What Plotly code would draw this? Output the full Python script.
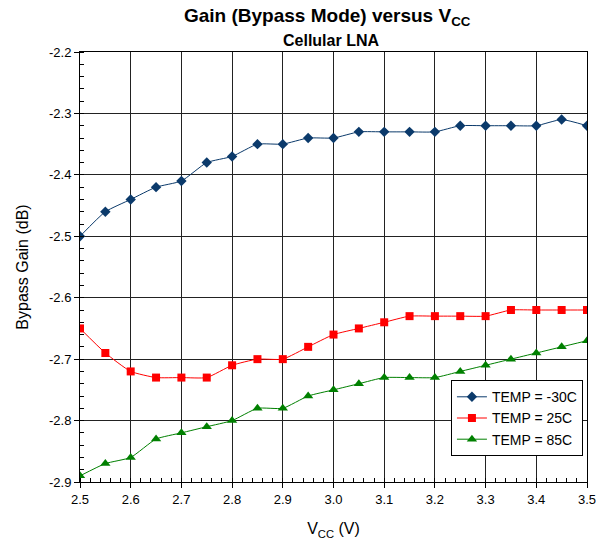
import plotly.graph_objects as go

vcc = [2.5, 2.55, 2.6, 2.65, 2.7, 2.75, 2.8, 2.85, 2.9, 2.95, 3.0,
       3.05, 3.1, 3.15, 3.2, 3.25, 3.3, 3.35, 3.4, 3.45, 3.5]
gain_m30 = [-2.50, -2.46, -2.44, -2.42, -2.41, -2.38, -2.37, -2.35, -2.35, -2.34, -2.34,
            -2.33, -2.33, -2.33, -2.33, -2.32, -2.32, -2.32, -2.32, -2.31, -2.32]
gain_25 = [-2.65, -2.69, -2.72, -2.73, -2.73, -2.73, -2.71, -2.70, -2.70, -2.68, -2.66,
           -2.65, -2.64, -2.63, -2.63, -2.63, -2.63, -2.62, -2.62, -2.62, -2.62]
gain_85 = [-2.89, -2.87, -2.86, -2.83, -2.82, -2.81, -2.80, -2.78, -2.78, -2.76, -2.75,
           -2.74, -2.73, -2.73, -2.73, -2.72, -2.71, -2.70, -2.69, -2.68, -2.67]
x_ticks = [2.5, 2.6, 2.7, 2.8, 2.9, 3.0, 3.1, 3.2, 3.3, 3.4, 3.5]
x_ticktext = ["2.5", "2.6", "2.7", "2.8", "2.9", "3.0", "3.1", "3.2", "3.3", "3.4", "3.5"]
y_ticks = [-2.2, -2.3, -2.4, -2.5, -2.6, -2.7, -2.8, -2.9]
y_ticktext = ["-2.2", "-2.3", "-2.4", "-2.5", "-2.6", "-2.7", "-2.8", "-2.9"]

FONT = "Liberation Sans, Arial, sans-serif"

fig = go.Figure()
series = [
    ("TEMP = -30C", gain_m30, "#0B3A6B", "diamond", 8),
    ("TEMP = 25C", gain_25, "#FF0000", "square", 8),
    ("TEMP = 85C", gain_85, "#008000", "triangle-up", 9),
]
for name, ys, col, sym, sz in series:
    fig.add_trace(go.Scatter(
        x=vcc, y=ys, name=name, mode="lines+markers",
        line=dict(color=col, width=1, shape="spline", smoothing=0.5),
        marker=dict(symbol=sym, size=sz, color=col, line=dict(width=0)),
    ))

axis_common = dict(
    showline=True, linecolor="black", linewidth=1, mirror=True,
    showgrid=True, gridcolor="#222222", gridwidth=1,
    ticks="outside", ticklen=5, tickcolor="black", tickwidth=1,
    tickfont=dict(family=FONT, size=13, color="black"),
    zeroline=False,
)

fig.update_layout(
    width=607, height=545,
    margin=dict(l=80, r=20, t=52, b=63, autoexpand=False),
    paper_bgcolor="white", plot_bgcolor="white",
    font=dict(family=FONT, color="black"),
    showlegend=True,
    legend=dict(
        x=0.992, y=0.06, xanchor="right", yanchor="bottom",
        bgcolor="white", bordercolor="black", borderwidth=1,
        font=dict(family=FONT, size=14, color="black"),
        tracegroupgap=0, itemwidth=30,
    ),
    xaxis=dict(
        range=[2.5, 3.5], tickvals=x_ticks, ticktext=x_ticktext,
        minor=dict(ticks="inside", dtick=0.02, tick0=2.5, ticklen=4,
                   tickcolor="black", showgrid=False),
        title=dict(text="V<sub>CC</sub> (V)", font=dict(family=FONT, size=16), standoff=17),
        **axis_common,
    ),
    yaxis=dict(
        range=[-2.9, -2.2], tickvals=y_ticks, ticktext=y_ticktext,
        minor=dict(ticks="inside", dtick=0.02, tick0=-2.9, ticklen=4,
                   tickcolor="black", showgrid=False),
        title=dict(text="Bypass Gain (dB)", font=dict(family=FONT, size=16), standoff=16),
        **axis_common,
    ),
    annotations=[
        dict(text="<b>Gain (Bypass Mode) versus V<sub>CC</sub></b>", xref="paper", yref="paper",
             x=0.5, y=1, yshift=35, xshift=-6, xanchor="center", yanchor="middle", showarrow=False,
             font=dict(family=FONT, size=19, color="black")),
        dict(text="<b>Cellular LNA</b>", xref="paper", yref="paper",
             x=0.5, y=1, yshift=12, xshift=-3, xanchor="center", yanchor="middle", showarrow=False,
             font=dict(family=FONT, size=16, color="black")),
    ],
)

fig.write_html("out.html", config={"displayModeBar": False},
               post_script="document.body.style.margin='0';")
